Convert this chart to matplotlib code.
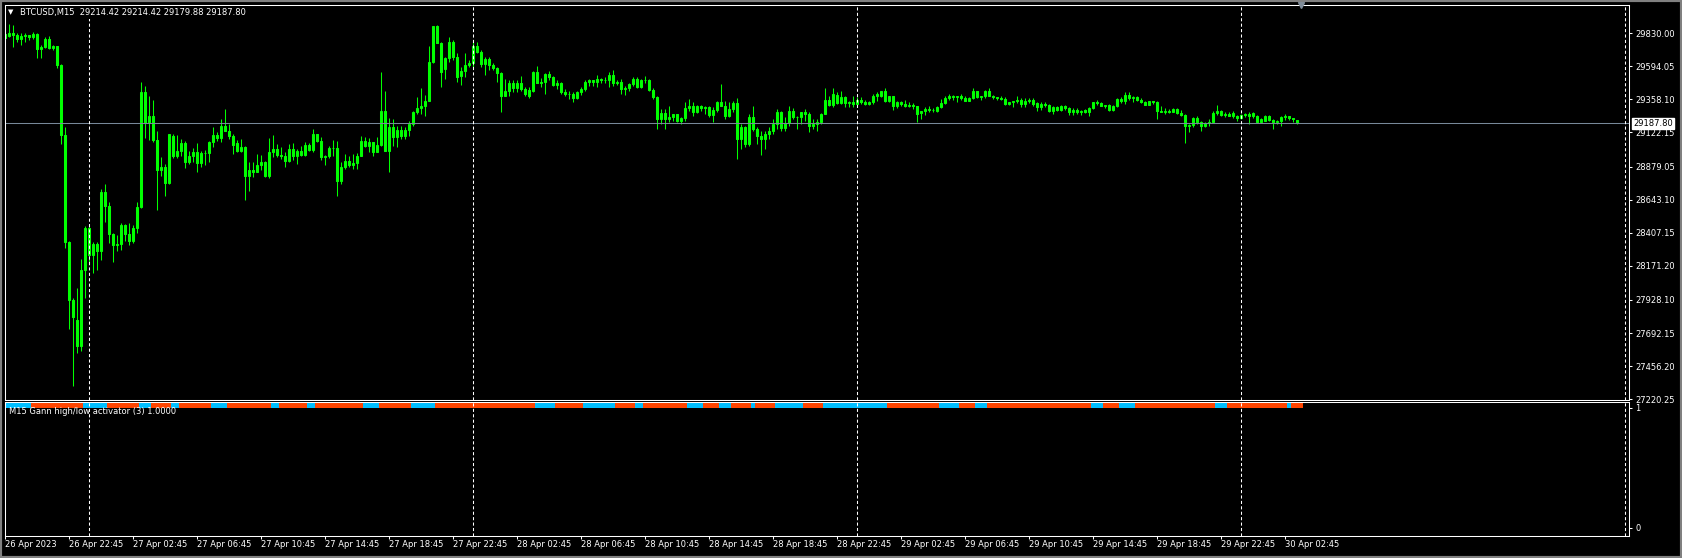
###########################################################################################
#       BTCUSD M15 candles + Gann high/low activator strip (MT4 style)
###########################################################################################

import numpy as np
import pandas as pd

import matplotlib
matplotlib.use('Agg')
import matplotlib.pyplot as plt
from matplotlib.patches import Rectangle

################### *** data *** ##########################################################

symbol = 'BTCUSD,M15'
start_time = '2023-04-26 18:45'
bid = 29187.80

opens = [29825, 29811, 29832, 29818, 29790, 29811, 29818, 29804, 29825, 29719,
         29733, 29790, 29726, 29740, 29606, 29103, 28339, 27928, 27786, 27602,
         28140, 28438, 28246, 28324, 28275, 28700, 28600, 28395, 28317, 28324,
         28466, 28395, 28346, 28438, 28593, 29408, 29188, 29238, 29068, 28855,
         28877, 28763, 29096, 28954, 28990, 29046, 28912, 28954, 28983, 28905,
         28976, 28976, 29054, 29103, 29082, 29167, 29131, 29096, 29046, 28990,
         29018, 28813, 28855, 28841, 28891, 28912, 28813, 28983, 29004, 28961,
         28954, 28919, 29004, 28954, 28990, 28961, 29032, 28997, 29110, 29061,
         28947, 28954, 29011, 29011, 28777, 28877, 28919, 28891, 28905, 28954,
         29061, 29025, 29054, 28983, 29032, 29273, 28990, 29160, 29089, 29139,
         29096, 29139, 29181, 29266, 29294, 29308, 29344, 29627, 29882, 29762,
         29577, 29655, 29769, 29662, 29528, 29563, 29606, 29620, 29740, 29698,
         29613, 29648, 29606, 29585, 29549, 29386, 29415, 29478, 29436, 29478,
         29429, 29422, 29415, 29556, 29478, 29485, 29542, 29521, 29464, 29478,
         29408, 29400, 29400, 29365, 29408, 29429, 29485, 29493, 29485, 29507,
         29493, 29493, 29535, 29478, 29485, 29429, 29436, 29471, 29507, 29450,
         29493, 29500, 29422, 29372, 29216, 29259, 29216, 29231, 29252, 29202,
         29224, 29294, 29308, 29266, 29308, 29294, 29301, 29245, 29280, 29337,
         29308, 29238, 29287, 29330, 29075, 29160, 29039, 29231, 29146, 29096,
         29075, 29110, 29131, 29181, 29266, 29153, 29188, 29273, 29231, 29231,
         29266, 29252, 29167, 29181, 29195, 29252, 29351, 29316, 29393, 29330,
         29372, 29330, 29337, 29323, 29351, 29337, 29323, 29337, 29386, 29386,
         29415, 29344, 29379, 29308, 29337, 29323, 29308, 29316, 29308, 29259,
         29273, 29287, 29280, 29273, 29301, 29330, 29365, 29379, 29372, 29379,
         29365, 29344, 29365, 29415, 29372, 29379, 29415, 29386, 29372, 29365,
         29358, 29323, 29337, 29344, 29351, 29323, 29344, 29351, 29330, 29301,
         29323, 29316, 29273, 29301, 29280, 29308, 29294, 29266, 29280, 29266,
         29280, 29266, 29294, 29337, 29330, 29308, 29316, 29280, 29308, 29358,
         29344, 29393, 29365, 29372, 29351, 29337, 29316, 29344, 29337, 29273,
         29266, 29273, 29266, 29287, 29259, 29245, 29167, 29174, 29224, 29195,
         29167, 29188, 29195, 29259, 29273, 29245, 29252, 29238, 29238, 29224,
         29245, 29252, 29238, 29238, 29195, 29202, 29238, 29209, 29195, 29202,
         29231, 29238, 29224, 29214.42]

highs = [29847, 29896, 29889, 29832, 29832, 29832, 29818, 29839, 29832, 29747,
         29804, 29811, 29747, 29740, 29613, 29160, 28346, 27942, 28013, 28218,
         28452, 28466, 28339, 28339, 28721, 28756, 28629, 28402, 28388, 28480,
         28473, 28480, 28459, 28629, 29485, 29457, 29379, 29351, 29131, 28947,
         28898, 29110, 29110, 29103, 29075, 29061, 28990, 29011, 29046, 28990,
         28997, 29061, 29160, 29124, 29216, 29287, 29181, 29110, 29068, 29075,
         29025, 28912, 28912, 28969, 28961, 28919, 29082, 29103, 29039, 29018,
         28983, 29039, 29046, 29004, 29025, 29054, 29046, 29146, 29110, 29089,
         28961, 29025, 29068, 29061, 28912, 28969, 28954, 28969, 28976, 29096,
         29089, 29082, 29054, 29089, 29556, 29415, 29224, 29216, 29167, 29167,
         29160, 29202, 29273, 29372, 29443, 29393, 29740, 29882, 29889, 29769,
         29662, 29804, 29783, 29691, 29592, 29691, 29641, 29783, 29769, 29712,
         29662, 29662, 29620, 29592, 29556, 29507, 29500, 29500, 29500, 29528,
         29450, 29450, 29563, 29599, 29514, 29549, 29563, 29528, 29500, 29485,
         29429, 29415, 29408, 29415, 29450, 29500, 29507, 29500, 29535, 29514,
         29521, 29556, 29570, 29500, 29507, 29457, 29478, 29521, 29521, 29507,
         29528, 29507, 29436, 29379, 29287, 29287, 29308, 29252, 29252, 29231,
         29337, 29358, 29337, 29316, 29316, 29308, 29308, 29301, 29344, 29471,
         29344, 29337, 29344, 29365, 29181, 29167, 29252, 29308, 29160, 29131,
         29131, 29160, 29216, 29287, 29273, 29231, 29308, 29294, 29238, 29266,
         29287, 29266, 29216, 29216, 29259, 29443, 29386, 29436, 29408, 29415,
         29386, 29344, 29379, 29372, 29372, 29351, 29344, 29400, 29408, 29415,
         29436, 29386, 29379, 29344, 29344, 29351, 29337, 29330, 29308, 29273,
         29301, 29308, 29294, 29308, 29358, 29379, 29400, 29393, 29379, 29400,
         29379, 29372, 29443, 29415, 29379, 29422, 29436, 29393, 29372, 29379,
         29372, 29337, 29344, 29379, 29365, 29365, 29365, 29365, 29337, 29337,
         29337, 29323, 29308, 29308, 29316, 29316, 29301, 29294, 29294, 29280,
         29287, 29301, 29337, 29351, 29337, 29316, 29323, 29316, 29365, 29372,
         29408, 29408, 29379, 29379, 29365, 29344, 29344, 29344, 29344, 29308,
         29294, 29287, 29294, 29294, 29280, 29252, 29181, 29231, 29238, 29202,
         29195, 29216, 29273, 29316, 29280, 29266, 29266, 29273, 29245, 29252,
         29259, 29266, 29266, 29245, 29224, 29245, 29245, 29216, 29209, 29238,
         29252, 29238, 29224, 29214.42]

lows = [29783, 29804, 29733, 29769, 29747, 29769, 29783, 29790, 29655, 29655,
        29726, 29719, 29712, 29585, 29039, 28296, 27723, 27312, 27553, 27567,
        27942, 28176, 28119, 28140, 28211, 28487, 28331, 28197, 28275, 28282,
        28346, 28317, 28331, 28402, 28586, 29082, 29068, 29054, 28572, 28813,
        28671, 28756, 28940, 28940, 28954, 28869, 28898, 28912, 28841, 28877,
        28891, 28912, 29018, 29061, 29054, 29131, 29075, 28969, 28983, 28983,
        28643, 28707, 28806, 28841, 28855, 28806, 28799, 28947, 28947, 28933,
        28877, 28912, 28926, 28898, 28954, 28954, 28990, 28983, 29054, 28926,
        28891, 28940, 28954, 28671, 28756, 28862, 28877, 28862, 28862, 28954,
        29018, 28983, 28954, 28983, 29025, 28990, 28841, 29025, 29018, 29075,
        29075, 29096, 29167, 29252, 29252, 29238, 29344, 29620, 29762, 29450,
        29507, 29627, 29641, 29485, 29464, 29521, 29592, 29592, 29691, 29592,
        29535, 29570, 29570, 29485, 29266, 29379, 29379, 29408, 29408, 29415,
        29379, 29365, 29408, 29478, 29450, 29400, 29500, 29457, 29429, 29400,
        29379, 29358, 29337, 29358, 29393, 29415, 29457, 29457, 29450, 29478,
        29478, 29450, 29457, 29464, 29400, 29393, 29415, 29457, 29436, 29436,
        29478, 29415, 29358, 29146, 29181, 29146, 29195, 29202, 29195, 29181,
        29202, 29273, 29238, 29259, 29273, 29252, 29231, 29195, 29266, 29308,
        29216, 29231, 29266, 28933, 29004, 29018, 29025, 29131, 29039, 28961,
        29004, 29075, 29110, 29146, 29131, 29131, 29167, 29216, 29146, 29181,
        29202, 29124, 29146, 29131, 29181, 29252, 29308, 29301, 29323, 29323,
        29301, 29301, 29301, 29323, 29323, 29316, 29316, 29323, 29344, 29372,
        29337, 29337, 29280, 29294, 29308, 29301, 29301, 29287, 29195, 29216,
        29245, 29266, 29266, 29266, 29294, 29323, 29351, 29351, 29337, 29351,
        29344, 29344, 29358, 29365, 29351, 29365, 29379, 29358, 29351, 29351,
        29316, 29316, 29301, 29330, 29301, 29301, 29330, 29308, 29273, 29280,
        29301, 29266, 29252, 29273, 29273, 29280, 29245, 29245, 29252, 29245,
        29259, 29238, 29287, 29316, 29308, 29294, 29273, 29273, 29301, 29330,
        29323, 29351, 29337, 29344, 29330, 29316, 29316, 29323, 29216, 29266,
        29252, 29259, 29266, 29252, 29238, 29046, 29124, 29160, 29181, 29131,
        29160, 29167, 29188, 29245, 29238, 29231, 29238, 29224, 29202, 29216,
        29231, 29181, 29224, 29188, 29195, 29202, 29202, 29146, 29181, 29167,
        29209, 29209, 29195, 29179.88]

closes = [29797, 29832, 29818, 29790, 29811, 29818, 29804, 29825, 29719, 29733,
          29790, 29726, 29740, 29606, 29103, 28339, 27928, 27808, 27602, 28140,
          28438, 28246, 28324, 28275, 28700, 28600, 28395, 28317, 28324, 28466,
          28395, 28346, 28438, 28593, 29408, 29188, 29238, 29068, 28855, 28877,
          28763, 29110, 28954, 28990, 29046, 28912, 28954, 28983, 28905, 28976,
          28976, 29054, 29103, 29082, 29167, 29131, 29096, 29032, 28990, 29018,
          28813, 28855, 28841, 28891, 28912, 28813, 28983, 29004, 28961, 28954,
          28919, 29004, 28954, 28990, 28961, 29032, 28997, 29110, 29061, 28947,
          28954, 29011, 29011, 28777, 28877, 28919, 28891, 28905, 28954, 29061,
          29025, 29054, 28983, 29032, 29273, 28990, 29160, 29089, 29139, 29096,
          29139, 29181, 29266, 29294, 29308, 29344, 29627, 29882, 29762, 29556,
          29655, 29769, 29662, 29521, 29563, 29606, 29620, 29740, 29698, 29613,
          29648, 29606, 29585, 29549, 29386, 29415, 29478, 29436, 29478, 29429,
          29400, 29386, 29556, 29478, 29485, 29542, 29521, 29464, 29478, 29408,
          29400, 29400, 29365, 29408, 29429, 29485, 29493, 29485, 29507, 29493,
          29493, 29535, 29478, 29485, 29429, 29436, 29471, 29507, 29450, 29493,
          29500, 29422, 29372, 29216, 29259, 29216, 29231, 29252, 29202, 29224,
          29294, 29308, 29266, 29308, 29294, 29301, 29245, 29280, 29337, 29308,
          29238, 29287, 29330, 29075, 29160, 29039, 29231, 29146, 29096, 29075,
          29110, 29131, 29181, 29266, 29153, 29188, 29273, 29231, 29231, 29266,
          29252, 29167, 29181, 29195, 29252, 29351, 29316, 29400, 29330, 29372,
          29330, 29337, 29323, 29351, 29337, 29323, 29337, 29386, 29400, 29415,
          29344, 29379, 29308, 29337, 29323, 29308, 29316, 29308, 29252, 29273,
          29287, 29280, 29280, 29301, 29330, 29365, 29379, 29372, 29379, 29365,
          29344, 29365, 29415, 29372, 29379, 29415, 29379, 29372, 29365, 29358,
          29323, 29337, 29344, 29351, 29323, 29344, 29351, 29323, 29301, 29323,
          29316, 29273, 29301, 29280, 29308, 29294, 29266, 29280, 29266, 29273,
          29266, 29294, 29337, 29330, 29308, 29316, 29280, 29308, 29358, 29344,
          29393, 29365, 29372, 29351, 29337, 29316, 29344, 29337, 29273, 29266,
          29273, 29266, 29287, 29259, 29245, 29167, 29174, 29224, 29195, 29167,
          29188, 29195, 29259, 29273, 29245, 29252, 29238, 29259, 29224, 29245,
          29252, 29238, 29259, 29195, 29216, 29238, 29209, 29195, 29202, 29231,
          29238, 29224, 29216, 29187.80]

# gann activator: run lengths of bars, alternating up (blue) / down (red), starting up
gann_runs = [7, 13, 6, 8, 3, 5, 2, 8, 4, 11, 2, 7, 2, 12, 4, 8, 6, 25, 5, 7, 8, 5, 2,
             11, 4, 4, 3, 5, 1, 5, 7, 5, 16, 13, 5, 4, 3, 26, 3, 4, 4, 20, 3, 15, 1, 3]
gann_value = 1.0

price_ticks = [29830.00, 29594.05, 29358.10, 29122.15, 28879.05, 28643.10,
               28407.15, 28171.20, 27928.10, 27692.15, 27456.20, 27220.25]

############ colours (MT4 green on black)

bg = 'black'
fg = 'white'
candle_col = '#00ff00'
up_col = '#00bfff'
dn_col = '#ff4500'
sep_col = 'white'
bid_col = '#778899'

plt.rcParams['font.family'] = ['DejaVu Sans']
fs = 6

################## *** figure layout (pixels) *** #########################################

W, H = 1682, 558
fig = plt.figure(figsize=(W/100., H/100.), dpi=100, facecolor=bg)

def pane(l, t, r, b):
    return fig.add_axes([l/W, 1 - b/H, (r - l)/W, (b - t)/H], facecolor=bg)

ax = pane(5, 4.5, 1629, 399.5)
axi = pane(5, 401.5, 1629, 535.5)

o = np.array(opens); h = np.array(highs); l = np.array(lows); c = np.array(closes)
n = len(o)
x = np.arange(n)
nview = 406
times = pd.date_range(start_time, periods=nview, freq='15min')

################## *** candles *** ########################################################

ax.vlines(x, l, h, color=candle_col, lw=0.75)
fill = np.where(c < o, 'white', 'black')
ax.bar(x, np.abs(c - o), bottom=np.minimum(o, c), width=0.5,
       color=fill, edgecolor=candle_col, linewidth=0.75)

ax.axhline(bid, color=bid_col, lw=0.75)
ax.annotate('%.2f' % bid, xy=(1.0, bid), xycoords=('axes fraction', 'data'),
            xytext=(3, 0), textcoords='offset points', ha='left', va='center',
            fontsize=fs, color='black', annotation_clip=False,
            bbox=dict(boxstyle='square,pad=0.12', fc='white', ec='white'))

# chart shift marker
ax.plot([n], [1.0], marker='v', ms=5, color='#7f8c99', transform=ax.get_xaxis_transform(),
        clip_on=False, zorder=5)

ax.set_xlim(0, nview)
ax.set_ylim(27218, 30035)

ax.yaxis.tick_right()
ax.set_yticks(price_ticks)
ax.set_yticklabels(['%.2f' % p for p in price_ticks])
ax.set_xticks([])

############ gann strip

state = []
for k, r in enumerate(gann_runs):
    state += [k % 2] * r
state = np.array(state)
xg = np.arange(len(state))
gcol = np.where(state == 0, up_col, dn_col)
axi.bar(xg, 0.1, bottom=np.full(len(state), gann_value), width=1.0, color=gcol, linewidth=0)

axi.set_xlim(0, nview)
axi.set_ylim(-0.0625, 1.054)
axi.yaxis.tick_right()
axi.set_yticks([0, 1])
axi.set_yticklabels(['0', '1'])

tk = np.arange(0, n, 16)
axi.set_xticks(tk)
labs = []
for i in tk:
    if i == 0:
        labs.append(times[i].strftime('%d %b %Y'))
    else:
        labs.append(times[i].strftime('%d %b %H:%M'))
axi.set_xticklabels(labs, ha='left')

############ day separators

seps = [i for i in range(nview) if times[i].hour == 0 and times[i].minute == 0]
for a in (ax, axi):
    for s in seps:
        a.axvline(s, color=sep_col, lw=0.75, ls=(0, (3, 2.2)))
    for sp in a.spines.values():
        sp.set_color(fg); sp.set_linewidth(0.75)
    a.tick_params(colors=fg, labelsize=fs, length=2, width=0.75, pad=1.5)
    a.tick_params(axis='y', pad=2.5)

############ texts

fig.text(8/W, 1 - 12.5/H, '\u25bc', fontsize=5, color=fg, va='center', ha='left')
fig.text(20/W, 1 - 12.5/H, symbol + '  ' + '%.2f %.2f %.2f %.2f' % (o[-1], h[-1], l[-1], c[-1]),
         fontsize=fs, color=fg, va='center', ha='left',
         bbox=dict(boxstyle='square,pad=0.2', fc=bg, ec='none'))
fig.text(9/W, 1 - 411/H, 'M15 Gann high/low activator (3) %.4f' % gann_value,
         fontsize=fs, color=fg, va='center', ha='left')

fig.patches.append(Rectangle((0, 0), 1, 1, transform=fig.transFigure, fill=False,
                             ec='#808080', lw=3))

plt.savefig('out.png', dpi=100, facecolor=bg)
plt.close()
